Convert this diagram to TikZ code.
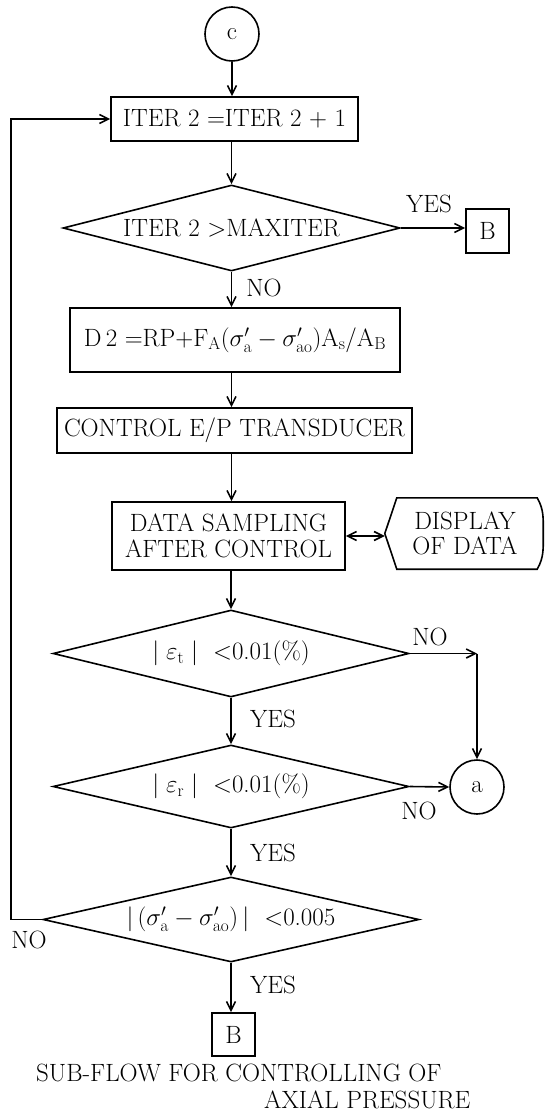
\documentclass[tikz,border=0pt]{standalone}
\usetikzlibrary{shapes.geometric,arrows.meta}
\begin{document}
\begin{tikzpicture}[x=1pt,y=-1pt,
  every node/.style={font=\fontsize{25}{22}\selectfont},
  twoline/.style={font=\fontsize{25}{25.5}\selectfont},
  proc/.style={draw, rectangle, line width=1.6pt, inner sep=0pt, align=center},
  dec/.style={draw, diamond, shape aspect=4, line width=1.6pt, inner sep=0pt},
  conn/.style={draw, circle, line width=1.6pt, inner sep=0pt, minimum size=54pt},
  flow/.style={line width=1.6pt, -{Straight Barb[length=9pt,width=9pt,line width=1.6pt]}},
  both/.style={line width=1.6pt, {Straight Barb[length=9pt,width=9pt,line width=1.6pt]}-{Straight Barb[length=9pt,width=9pt,line width=1.6pt]}},
  plain/.style={line width=1.6pt},
  lbl/.style={inner sep=0pt}]
\useasboundingbox (0,0) rectangle (545,1113);

\node[conn] (c) at (232,34) {c};
\node[proc, minimum width=247pt, minimum height=44pt] (iter) at (234.5,119) {ITER 2 $=$ITER 2 $+$ 1};
\node[dec, minimum width=337pt, minimum height=86pt] (d1) at (231.5,228) {ITER 2 $>$MAXITER};
\node[proc, minimum width=43pt, minimum height=44pt] (B1) at (487.5,231) {B};
\node[proc, minimum width=330pt, minimum height=64pt] (eq) at (235,340)
  {D\,2 $=$RP$+$F$_{\mathrm{A}}$($\sigma'_{\mathrm{a}}-\sigma'_{\mathrm{ao}}$)A$_{\mathrm{s}}$/A$_{\mathrm{B}}$};
\node[proc, minimum width=355pt, minimum height=45pt] (ctrl) at (234.5,430.5) {CONTROL E/P TRANSDUCER};
\node[proc, twoline, minimum width=233pt, minimum height=68pt] (data) at (228.5,536) {DATA SAMPLING\\AFTER CONTROL};
\node[twoline, inner sep=0pt, minimum width=160pt, minimum height=71pt, align=center] (disp) at (465,533.5) {DISPLAY\\OF DATA};
\draw[plain] (disp.west) -- ([xshift=12pt]disp.north west) -- ([xshift=-8pt]disp.north east)
  to[out=-60,in=90] ([xshift=-2pt]disp.east) to[out=-90,in=60] ([xshift=-8pt]disp.south east)
  -- ([xshift=12pt]disp.south west) -- cycle;
\node[dec, minimum width=356pt, minimum height=87pt] (dA) at (231,653.5) {$|\;\varepsilon_{\mathrm{t}}\;|$\ \ $<$0.01(\%)};
\node[conn] (a) at (477,787) {a};
\node[dec, minimum width=356pt, minimum height=83pt] (dB) at (231,786.5) {$|\;\varepsilon_{\mathrm{r}}\;|$\ \ $<$0.01(\%)};
\node[dec, minimum width=376pt, minimum height=85pt] (dC) at (231,919.5)
  {$|\,(\sigma'_{\mathrm{a}}-\sigma'_{\mathrm{ao}})\,|$\ \ $<$0.005};
\node[proc, minimum width=43pt, minimum height=43pt] (B2) at (233.5,1034.5) {B};

\node[lbl, anchor=west] (cap1) at (36,1073) {SUB-FLOW FOR CONTROLLING OF};
\node[lbl, anchor=west] (cap2) at (264,1100) {AXIAL PRESSURE};

\coordinate (lx) at (11,0);

\draw[flow] (c.south) -- (c.south |- iter.north);
\draw[flow] (d1.north |- iter.south) -- (d1.north);
\draw[flow] (d1.east) -- (d1.east -| B1.west);
\draw[flow] (d1.south) -- (d1.south |- eq.north);
\draw[flow] (d1.south |- eq.south) -- (d1.south |- ctrl.north);
\draw[flow] (d1.south |- ctrl.south) -- (d1.south |- data.north);
\draw[flow] (dA.north |- data.south) -- (dA.north);
\draw[both] (data.east) -- (data.east -| disp.west);
\coordinate (corner) at (dA.east -| a);
\draw[flow] (dA.east) -- (corner);
\draw[flow] (corner) -- (a.north);
\draw[flow] (dA.south) -- (dB.north);
\draw[flow] (dB.east) -- (a.west);
\draw[flow] (dB.south) -- (dC.north);
\draw[flow] (dC.west) -- (dC.west -| lx) -- (iter.west -| lx) -- (iter.west);
\draw[flow] (dC.south) -- (dC.south |- B2.north);

\node[lbl] (yes1) at (429,204) {YES};
\node[lbl] (no1) at (264,288) {NO};
\node[lbl] (no2) at (430,637) {NO};
\node[lbl] (yes2) at (273,719) {YES};
\node[lbl] (no3) at (419,811) {NO};
\node[lbl] (yes3) at (273,853) {YES};
\node[lbl] (no4) at (29,940) {NO};
\node[lbl] (yes4) at (273,985) {YES};
\end{tikzpicture}
\end{document}
